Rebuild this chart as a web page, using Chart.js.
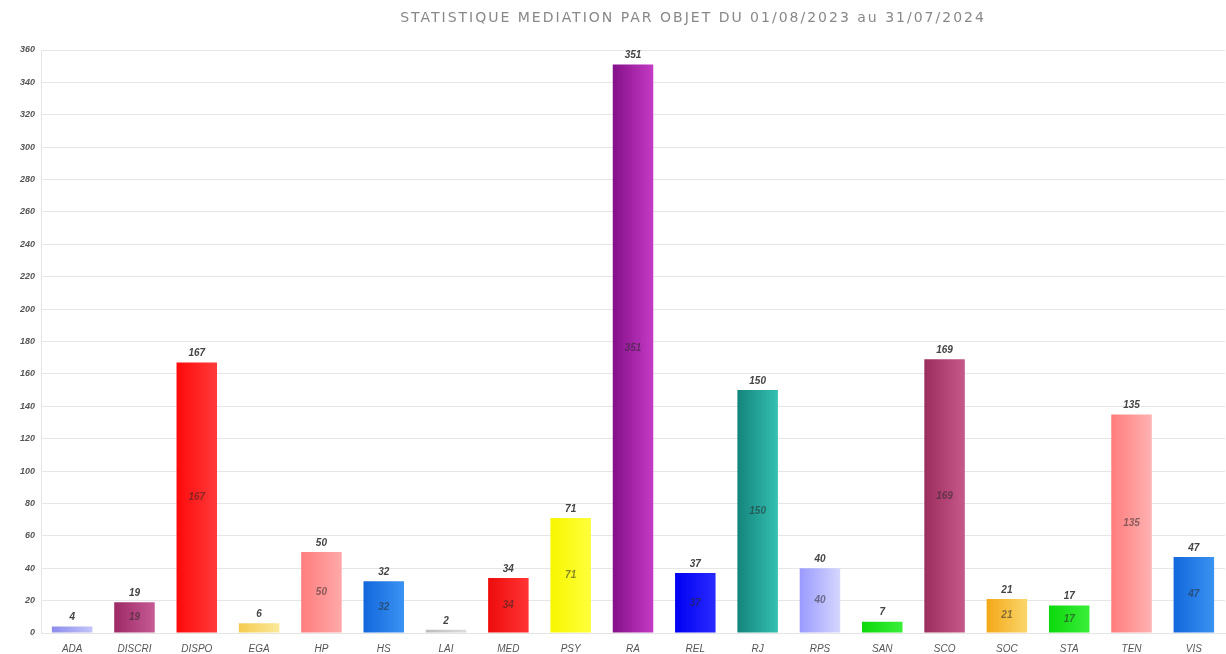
<!DOCTYPE html>
<html lang="fr">
<head>
    <meta charset="UTF-8">
    <title>Statistique médiation par objet</title>
    <script src="https://cdn.jsdelivr.net/npm/chart.js"></script>
    <style>
        body { margin: 0; background: #fff; }
        #wrap { width: 1226px; height: 654px; }
    </style>
</head>
<body>
    <div id="wrap"><canvas id="mediationCanvas" width="1226" height="654"></canvas></div>

    <script>
        // Data
        const categories = ['ADA', 'DISCRI', 'DISPO', 'EGA', 'HP', 'HS', 'LAI', 'MED', 'PSY', 'RA',
                            'REL', 'RJ', 'RPS', 'SAN', 'SCO', 'SOC', 'STA', 'TEN', 'VIS'];
        const counts = [4, 19, 167, 6, 50, 32, 2, 34, 71, 351, 37, 150, 40, 7, 169, 21, 17, 135, 47];
        // bar colours: [left (dark), right (light)]
        const barColors = [
            ['#8c8cec', '#c4c4fa'],
            ['#9c2a66', '#c65a94'],
            ['#ff0a0a', '#ff3a3a'],
            ['#f6cc50', '#fae89a'],
            ['#ff7e7e', '#ffa8a8'],
            ['#1268dc', '#3a92f2'],
            ['#bbbbbb', '#dddddd'],
            ['#ee0c0c', '#ff3434'],
            ['#f6f600', '#ffff3a'],
            ['#84108a', '#c43ac4'],
            ['#0000f2', '#2a2aff'],
            ['#14847c', '#34c0b2'],
            ['#9a9aff', '#d6d6ff'],
            ['#0cd80c', '#3aee3a'],
            ['#9a2c5e', '#c6588a'],
            ['#f4a818', '#fad66a'],
            ['#0cd80c', '#3aee3a'],
            ['#ff7c7c', '#ffb2b2'],
            ['#1268dc', '#3a92f2']
        ];
        const titleText = 'STATISTIQUE MEDIATION PAR OBJET DU 01/08/2023 au 31/07/2024';

        // gradient for each bar, left to right
        function barGradient(context) {
            const chart = context.chart;
            const i = context.dataIndex;
            const cols = barColors[i];
            if (!chart.chartArea || i === undefined) return cols[0];
            const x = chart.scales.x.getPixelForValue(i);
            const half = 20;
            const g = chart.ctx.createLinearGradient(x - half, 0, x + half, 0);
            g.addColorStop(0, cols[0]);
            g.addColorStop(1, cols[1]);
            return g;
        }

        // values above and inside the bars, plus the title
        const labelPlugin = {
            id: 'barLabels',
            afterDatasetsDraw(chart) {
                const ctx = chart.ctx;
                const meta = chart.getDatasetMeta(0);
                ctx.save();
                ctx.textAlign = 'center';
                meta.data.forEach((bar, i) => {
                    const v = counts[i];
                    ctx.font = 'italic bold 10px "Liberation Sans", Arial, sans-serif';
                    ctx.fillStyle = '#444';
                    ctx.textBaseline = 'bottom';
                    ctx.fillText(String(v), bar.x, bar.y - 4);
                    if (v >= 10) {
                        ctx.fillStyle = 'rgba(40,40,40,0.55)';
                        ctx.textBaseline = 'middle';
                        ctx.fillText(String(v), bar.x, (bar.y + bar.base) / 2);
                    }
                });
                ctx.restore();
            },
            afterDraw(chart) {
                const ctx = chart.ctx;
                ctx.save();
                ctx.font = '14px "DejaVu Sans", sans-serif';
                ctx.letterSpacing = '2px';
                ctx.fillStyle = '#888';
                ctx.textAlign = 'center';
                ctx.textBaseline = 'middle';
                ctx.fillText(titleText, 693, 18);
                ctx.restore();
            }
        };

        const ctx = document.getElementById('mediationCanvas').getContext('2d');
        const mediationChart = new Chart(ctx, {
            type: 'bar',
            data: {
                labels: categories,
                datasets: [{
                    label: 'Médiations',
                    data: counts,
                    backgroundColor: barGradient,
                    borderWidth: 0,
                    barPercentage: 0.65,
                    categoryPercentage: 1
                }]
            },
            plugins: [labelPlugin],
            options: {
                responsive: false,
                animation: false,
                layout: { padding: { top: 50, right: 1, left: 0, bottom: 0 } },
                plugins: {
                    legend: { display: false },
                    tooltip: { enabled: false }
                },
                scales: {
                    x: {
                        grid: { display: false },
                        border: { color: '#e4e4e4' },
                        ticks: {
                            color: '#555',
                            font: { size: 10, style: 'italic', family: '"Liberation Sans", Arial, sans-serif' },
                            maxRotation: 0,
                            autoSkip: false,
                            padding: 2
                        },
                        afterFit(scale) { scale.height = 21; }
                    },
                    y: {
                        min: 0,
                        max: 360,
                        ticks: {
                            stepSize: 20,
                            color: '#555',
                            font: { size: 9, style: 'italic', weight: 'bold', family: '"Liberation Sans", Arial, sans-serif' },
                            padding: 6
                        },
                        grid: { color: '#e6e6e6', drawTicks: false },
                        border: { color: '#e4e4e4' },
                        afterFit(scale) { scale.width = 41; }
                    }
                }
            }
        });
    </script>
</body>
</html>
